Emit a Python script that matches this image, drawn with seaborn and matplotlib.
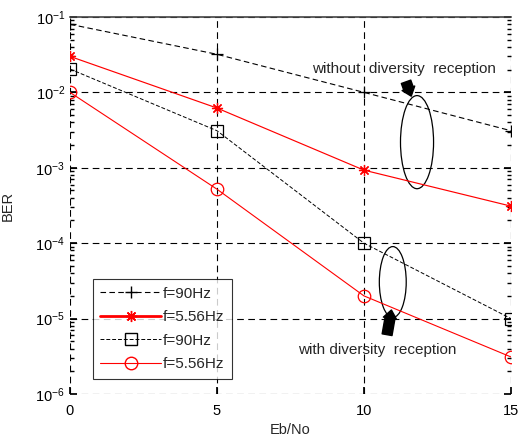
import matplotlib
matplotlib.use("Agg")
import matplotlib.pyplot as plt
import numpy as np
import pandas as pd
import seaborn as sns
from matplotlib.lines import Line2D
from matplotlib.patches import Ellipse
from matplotlib.ticker import LogLocator, NullFormatter

# data
ebno = [0, 5, 10, 15]
ber_90_no_div = [0.08, 0.032, 0.01, 0.0031]
ber_556_no_div = [0.030, 0.0062, 0.00093, 0.00031]
ber_90_div = [0.0204, 0.0031, 1.0e-4, 1.0e-5]
ber_556_div = [0.010, 0.00052, 2.0e-5, 3.1e-6]
labels = ["f=90Hz", "f=5.56Hz", "f=90Hz", "f=5.56Hz"]

sns.set_theme(style="white")
plt.rcParams["font.family"] = ["Liberation Sans", "DejaVu Sans"]

fig = plt.figure(figsize=(5.2, 4.41), dpi=100)
ax = fig.add_axes([0.1346, 0.1066, 0.848, 0.8549])

asterisk = (8, 2, 0)
styles = [
    (ber_90_no_div, "black", (0, (5, 3)), "+", 0.8, "none", 9),
    (ber_556_no_div, "red", "-", asterisk, 0.85, "red", 8),
    (ber_90_div, "black", (0, (4, 2)), "s", 0.7, "none", 9),
    (ber_556_div, "red", "-", "o", 0.8, "none", 9),
]
for (vals, col, ls, mk, lw, mfc, ms), lab in zip(styles, labels):
    df = pd.DataFrame({"Eb/No": ebno, "BER": vals})
    sns.lineplot(data=df, x="Eb/No", y="BER", ax=ax, color=col, linestyle=ls,
                 linewidth=lw, marker=mk, markersize=ms, markerfacecolor=mfc,
                 markeredgecolor=col, markeredgewidth=0.9, legend=False)

ax.set_yscale("log")
ax.set_xlim(0, 15)
ax.set_ylim(1e-6, 1e-1)
ax.set_xticks([0, 5, 10, 15])
ax.yaxis.set_major_locator(LogLocator(base=10, numticks=10))
ax.yaxis.set_minor_locator(LogLocator(base=10, subs=np.arange(2, 10), numticks=20))
ax.yaxis.set_minor_formatter(NullFormatter())
ax.grid(True, which="major", color="black", linestyle=(0, (6, 4)), linewidth=0.8)
ax.tick_params(which="both", direction="in", left=True, right=True, bottom=True,
               labelsize=10.5, colors="black")
ax.tick_params(which="minor", length=3)
ax.tick_params(which="major", length=5)
ax.tick_params(axis="x", pad=7)
for s in ["left", "bottom", "right"]:
    ax.spines[s].set_visible(False)
ax.spines["top"].set_color("#444444")
ax.spines["top"].set_linewidth(1.2)
ax.set_xlabel("Eb/No", fontsize=10.5)
ax.set_ylabel("BER", fontsize=10.5)
ax.xaxis.set_label_coords(0.5, -0.078)
ax.yaxis.set_label_coords(-0.125, 0.5)

# ellipses and arrows (axes fraction)
ax.add_patch(Ellipse((0.787, 0.668), 0.075, 0.247, transform=ax.transAxes,
                     fill=False, edgecolor="black", linewidth=0.9))
ax.add_patch(Ellipse((0.732, 0.297), 0.061, 0.188, transform=ax.transAxes,
                     fill=False, edgecolor="black", linewidth=0.9))
ax.text(0.757, 0.862, "without  diversity  reception", transform=ax.transAxes,
        ha="center", va="center", fontsize=11)
ax.text(0.697, 0.117, "with diversity  reception", transform=ax.transAxes,
        ha="center", va="center", fontsize=11)
ax.annotate("", xy=(0.776, 0.783), xytext=(0.760, 0.835),
            xycoords="axes fraction",
            arrowprops=dict(arrowstyle="simple,head_width=0.8,tail_width=0.6",
                            color="black"))
ax.annotate("", xy=(0.730, 0.230), xytext=(0.718, 0.150),
            xycoords="axes fraction",
            arrowprops=dict(arrowstyle="simple,head_width=0.8,tail_width=0.6",
                            color="black"))

handles = []
for (vals, col, ls, mk, lw, mfc, ms), i in zip(styles, range(4)):
    handles.append(Line2D([], [], color=col, linestyle=ls,
                          linewidth=2.0 if i == 1 else lw, marker=mk,
                          markersize=ms, markerfacecolor=mfc, markeredgecolor=col))
leg = ax.legend(handles, labels, loc="lower left", bbox_to_anchor=(0.034, 0.02),
                fontsize=11, frameon=True, fancybox=False, handlelength=4.0,
                borderpad=0.5, labelspacing=0.62, handletextpad=0.1)
leg.get_frame().set_edgecolor("black")
leg.get_frame().set_linewidth(0.8)

fig.savefig("out.png", dpi=100)
